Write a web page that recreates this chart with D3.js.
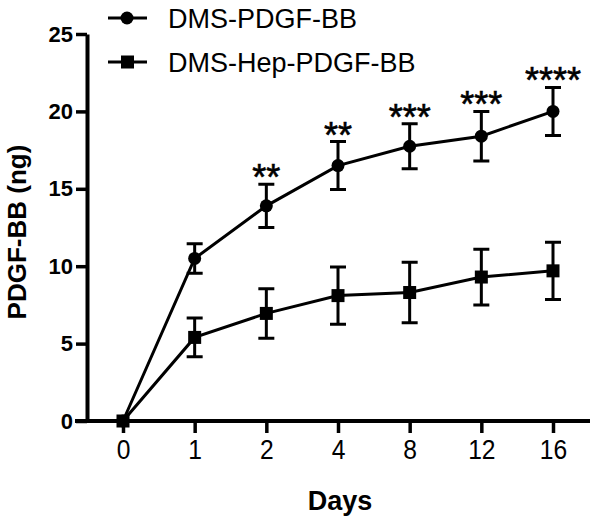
<!DOCTYPE html>
<html>
<head>
<meta charset="utf-8">
<script src="https://cdn.jsdelivr.net/npm/d3@7"></script>
<style>
  body { margin: 0; background: #fff; }
  svg { display: block; }
</style>
</head>
<body>
<div id="chart"></div>
<script>
// Data
const days = ["0", "1", "2", "4", "8", "12", "16"];
const dmsMean = [0, 10.5, 13.9, 16.5, 17.75, 18.4, 20.0];
const dmsErr = [0, 0.95, 1.4, 1.55, 1.45, 1.6, 1.55];
const hepMean = [0, 5.4, 6.95, 8.1, 8.3, 9.3, 9.7];
const hepErr = [0, 1.25, 1.6, 1.85, 1.95, 1.8, 1.85];
const stars = ["", "", "**", "**", "***", "***", "****"];
const yTicks = [0, 5, 10, 15, 20, 25];
const seriesNames = ["DMS-PDGF-BB", "DMS-Hep-PDGF-BB"];

// SVG constants
const width = 600, height = 525;

const svg = d3.select("#chart")
  .append("svg")
  .attr("width", width)
  .attr("height", height);

const x = d3.scalePoint()
  .domain(days)
  .range([123, 553]);
const y = d3.scaleLinear()
  .domain([0, 25])
  .range([421, 34]);

// y axis
const yAxis = g => g
  .attr("transform", "translate(87,0)")
  .call(d3.axisLeft(y).tickValues(yTicks).tickSize(11).tickPadding(3).tickSizeOuter(0))
  .call(g => g.select(".domain").attr("stroke-width", 4))
  .call(g => g.selectAll(".tick line").attr("stroke-width", 3.5))
  .call(g => g.selectAll(".tick text")
    .attr("font-family", "'Liberation Sans', Arial, sans-serif")
    .attr("font-weight", "bold")
    .attr("font-size", 22)
    .attr("fill", "#000"));

// x axis
const xAxis = g => g
  .attr("transform", "translate(0,421)")
  .call(d3.axisBottom(x).tickSize(12).tickPadding(6).tickSizeOuter(0))
  .call(g => g.select(".domain").attr("d", "M75,0H590").attr("stroke-width", 4))
  .call(g => g.selectAll(".tick line").attr("stroke-width", 3.5))
  .call(g => g.selectAll(".tick text")
    .attr("font-family", "'Liberation Sans', Arial, sans-serif")
    .attr("font-size", 28)
    .attr("transform", "scale(0.88,1)")
    .attr("fill", "#000"));

svg.append("g").call(yAxis);
svg.append("g").call(xAxis);

// axis titles
svg.append("text")
  .attr("transform", "translate(26,232) rotate(-90)")
  .attr("text-anchor", "middle")
  .style("font", "bold 26px 'Liberation Sans', Arial, sans-serif")
  .text("PDGF-BB (ng)");

svg.append("text")
  .attr("x", 340)
  .attr("y", 510)
  .attr("text-anchor", "middle")
  .style("font", "bold 27px 'Liberation Sans', Arial, sans-serif")
  .text("Days");

const line = d3.line()
  .x(d => x(d.day))
  .y(d => y(d.mean));

const dmsData = days.map((day, i) => ({ day, mean: dmsMean[i], err: dmsErr[i], star: stars[i] }));
const hepData = days.map((day, i) => ({ day, mean: hepMean[i], err: hepErr[i] }));

function errorBars(data) {
  const g = svg.append("g")
    .attr("stroke", "#000")
    .attr("stroke-width", 3)
    .attr("fill", "none");
  data.filter(d => d.err > 0).forEach(d => {
    const cx = x(d.day), top = y(d.mean + d.err), bot = y(d.mean - d.err);
    g.append("path")
      .attr("d", `M${cx},${top}V${bot}M${cx - 8},${top}H${cx + 8}M${cx - 8},${bot}H${cx + 8}`);
  });
}

errorBars(hepData);
errorBars(dmsData);

svg.append("path")
  .datum(dmsData)
  .attr("fill", "none")
  .attr("stroke", "#000")
  .attr("stroke-width", 3)
  .attr("d", line);

svg.append("path")
  .datum(hepData)
  .attr("fill", "none")
  .attr("stroke", "#000")
  .attr("stroke-width", 3)
  .attr("d", line);

svg.selectAll(".dot")
  .data(dmsData)
  .enter().append("circle")
  .attr("cx", d => x(d.day))
  .attr("cy", d => y(d.mean))
  .attr("r", 6.5)
  .attr("fill", "#000");

svg.selectAll(".sq")
  .data(hepData)
  .enter().append("rect")
  .attr("x", d => x(d.day) - 6.5)
  .attr("y", d => y(d.mean) - 6.5)
  .attr("width", 13)
  .attr("height", 13)
  .attr("fill", "#000");

// significance stars
svg.selectAll(".star")
  .data(dmsData.filter(d => d.star))
  .enter().append("text")
  .attr("x", d => x(d.day))
  .attr("y", d => y(d.mean + d.err) + 6)
  .attr("text-anchor", "middle")
  .style("font", "36px 'Liberation Sans', Arial, sans-serif")
  .attr("stroke", "#000")
  .attr("stroke-width", 0.6)
  .text(d => d.star);

// legend
const legend = svg.append("g");
seriesNames.forEach((name, i) => {
  const ly = 18 + i * 44;
  legend.append("line")
    .attr("x1", 108).attr("x2", 147)
    .attr("y1", ly).attr("y2", ly)
    .attr("stroke", "#000")
    .attr("stroke-width", 3);
  if (i === 0) {
    legend.append("circle").attr("cx", 127).attr("cy", ly).attr("r", 6.5).attr("fill", "#000");
  } else {
    legend.append("rect").attr("x", 121).attr("y", ly - 6.5).attr("width", 13).attr("height", 13).attr("fill", "#000");
  }
  legend.append("text")
    .attr("x", 168)
    .attr("y", ly + 10)
    .style("font", "27px 'Liberation Sans', Arial, sans-serif")
    .text(name);
});
</script>
</body>
</html>
